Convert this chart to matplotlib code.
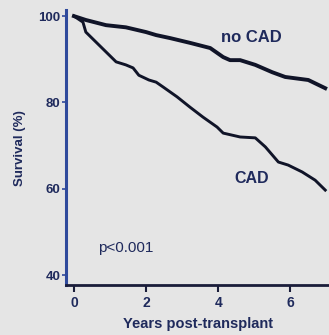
import matplotlib.pyplot as plt
import numpy as np

plt.rcParams['font.family'] = ['Liberation Sans', 'DejaVu Sans']

# Kaplan-Meier survival (%) by years post-transplant
years_no_cad = [0.0, 0.33, 0.89, 1.44, 2.0, 2.28, 2.67, 3.22, 3.78, 4.14, 4.33,
                4.61, 5.03, 5.5, 5.86, 6.5, 6.97]
surv_no_cad = [100.0, 99.1, 97.9, 97.4, 96.3, 95.6, 94.9, 93.8, 92.6, 90.5, 89.8,
               89.8, 88.7, 87.0, 85.9, 85.2, 83.3]

years_cad = [0.0, 0.25, 0.33, 0.61, 0.89, 1.17, 1.44, 1.64, 1.8, 2.08, 2.28,
             2.47, 2.86, 3.22, 3.58, 3.97, 4.14, 4.61, 5.03, 5.31, 5.67, 5.94,
             6.33, 6.69, 6.97]
surv_cad = [100.0, 98.6, 96.3, 94.0, 91.7, 89.4, 88.7, 88.0, 86.3, 85.2, 84.7,
            83.6, 81.3, 78.9, 76.6, 74.3, 72.9, 72.0, 71.8, 69.7, 66.2, 65.5,
            63.9, 62.0, 59.7]

x_ticks = [0, 2, 4, 6]
y_ticks = [40, 60, 80, 100]

bg = '#e5e5e5'
navy = '#1f2a5c'

fig = plt.figure(figsize=(3.29, 3.35), dpi=100, facecolor=bg)
ax = fig.add_axes([0.2006, 0.149, 0.80, 0.821], facecolor=bg)

ax.plot(years_no_cad, surv_no_cad, color='#101428', lw=2.8)
ax.plot(years_cad, surv_cad, color='#101428', lw=2.1)

ax.set_xlim(-0.22, 7.08)
ax.set_ylim(37.7, 101.4)
ax.set_xticks(x_ticks)
ax.set_yticks(y_ticks)

for side in ['top', 'right']:
    ax.spines[side].set_visible(False)
ax.spines['left'].set_color('#2f4a9c')
ax.spines['left'].set_linewidth(2.2)
ax.spines['bottom'].set_color('#1a1d3a')
ax.spines['bottom'].set_linewidth(2.0)

ax.tick_params(axis='y', direction='out', length=3, width=1.2, color='#2f4a9c',
               labelsize=9.5, labelcolor=navy, pad=1)
ax.tick_params(axis='x', direction='out', length=5, width=1.5, color='#1a1d3a',
               labelsize=10, labelcolor=navy, pad=3)
for lab in ax.get_xticklabels() + ax.get_yticklabels():
    lab.set_fontweight('bold')

ax.set_xlabel('Years post-transplant', fontsize=10.5, fontweight='bold',
              color=navy, labelpad=5)
ax.set_ylabel('Survival (%)', fontsize=9.5, fontweight='bold', color=navy,
              labelpad=9)

ax.text(4.92, 95.0, 'no CAD', ha='center', va='center', fontsize=12,
        fontweight='bold', color=navy)
ax.text(4.92, 62.3, 'CAD', ha='center', va='center', fontsize=11.5,
        fontweight='bold', color=navy)
ax.text(0.67, 46.3, 'p<0.001', ha='left', va='center', fontsize=11,
        color=navy)

fig.savefig('out.png', dpi=100, facecolor=bg)
